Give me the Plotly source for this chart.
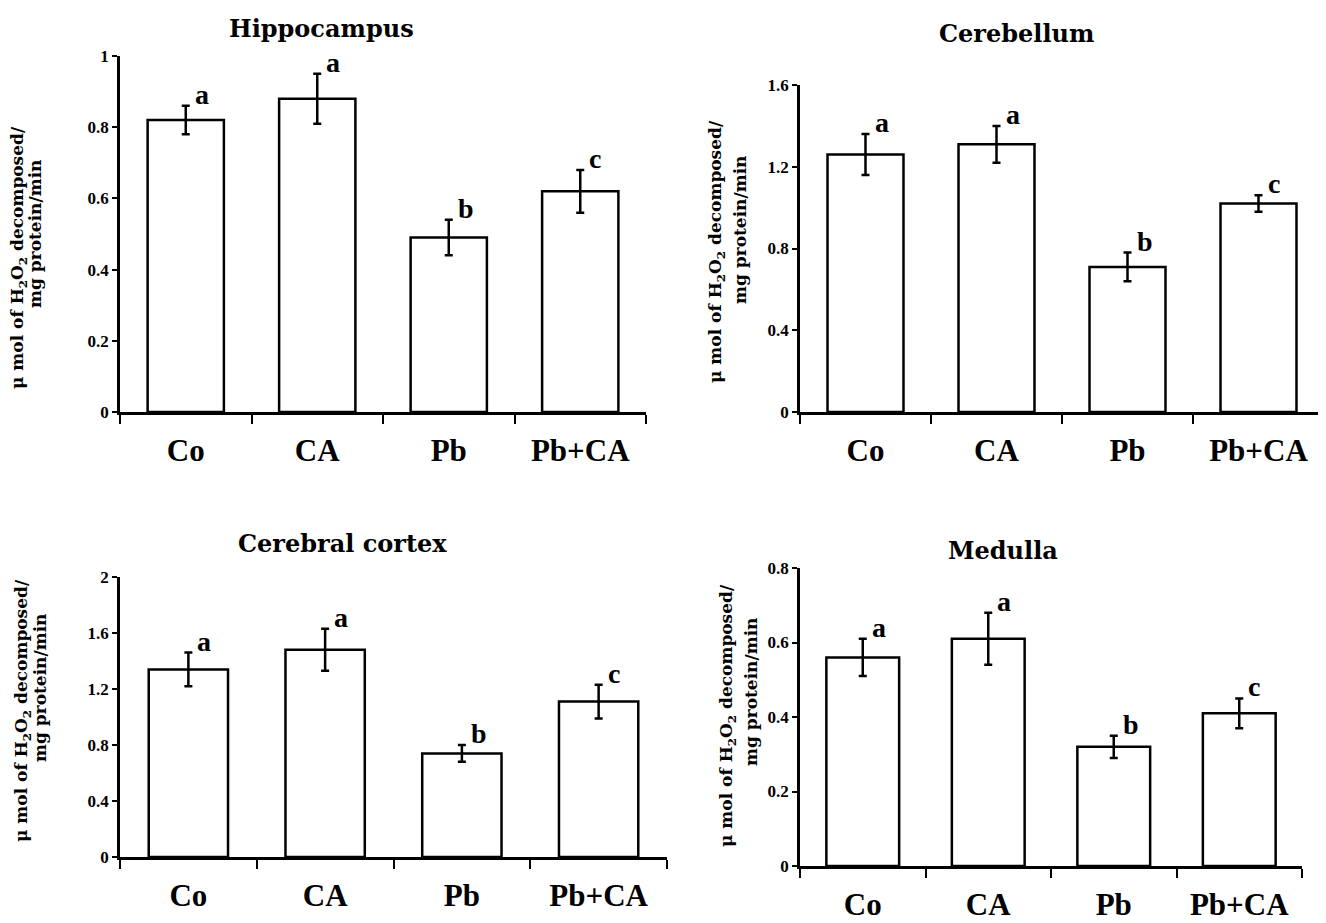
import plotly.graph_objects as go

# ---------------- data ----------------
categories = ["Co", "CA", "Pb", "Pb+CA"]
letters = ["a", "a", "b", "c"]

hippocampus = [0.82, 0.88, 0.49, 0.62]
hippocampus_err = [0.04, 0.07, 0.05, 0.06]

cerebellum = [1.26, 1.31, 0.71, 1.02]
cerebellum_err = [0.10, 0.09, 0.07, 0.04]

cortex = [1.34, 1.48, 0.74, 1.11]
cortex_err = [0.12, 0.15, 0.06, 0.12]

medulla = [0.56, 0.61, 0.32, 0.41]
medulla_err = [0.05, 0.07, 0.03, 0.04]

titles = ["Hippocampus", "Cerebellum", "Cerebral cortex", "Medulla"]
y_ranges = [[0, 1], [0, 1.6], [0, 2], [0, 0.8]]
y_dticks = [0.2, 0.4, 0.4, 0.2]
ytitle_line1 = "\u03bc mol of H<sub>2</sub>O<sub>2</sub> decomposed/"
ytitle_line2 = "mg protein/min"

# ---------------- layout geometry ----------------
# page body has an 8px margin: figure is drawn 8px in from the top-left
OFF = 8
W, H = 1326 - OFF, 923 - OFF

def px_x(x):
    return (x - OFF) / W

def px_y(y):
    return 1 - (y - OFF) / H

# (x0, x1, ytop, ybottom) in page pixels
panels = [
    (120, 646, 56, 412),
    (800, 1324, 85, 412),
    (120, 667, 577, 857),
    (800, 1302, 568, 866),
]
title_pos = [(321, 28), (1016, 33), (342, 543), (1003, 550)]
# (x line1, y line1, x line2, y line2)
ytitle_pos = [
    (18, 258, 35, 234),
    (717, 252, 740, 230),
    (22, 711, 40, 688),
    (727, 715, 751, 692),
]

series = [
    (hippocampus, hippocampus_err),
    (cerebellum, cerebellum_err),
    (cortex, cortex_err),
    (medulla, medulla_err),
]

SERIF = "Liberation Serif"
TITLE_FONT = "DejaVu Serif"

fig = go.Figure()
annotations = []
layout_axes = {}

for i, ((vals, errs), (x0, x1, yt, yb)) in enumerate(zip(series, panels)):
    n = i + 1
    xa = "x" if n == 1 else f"x{n}"
    ya = "y" if n == 1 else f"y{n}"
    fig.add_trace(go.Bar(
        x=categories, y=vals,
        xaxis=xa, yaxis=ya,
        width=0.58,
        marker=dict(color="white", line=dict(color="black", width=2.5)),
        error_y=dict(type="data", array=errs, visible=True,
                     color="black", thickness=2.5, width=4),
        showlegend=False, hoverinfo="x+y",
    ))
    xkey = "xaxis" if n == 1 else f"xaxis{n}"
    ykey = "yaxis" if n == 1 else f"yaxis{n}"
    layout_axes[xkey] = dict(
        domain=[px_x(x0), min(px_x(x1), 1.0)], anchor=ya, type="category",
        range=[-0.5, 3.5], automargin=False,
        showline=True, linecolor="black", linewidth=2.5,
        ticks="outside", tickson="boundaries", ticklen=9, tickwidth=2,
        tickcolor="black", showgrid=False, zeroline=False,
        tickfont=dict(family=SERIF, size=31, color="black", weight="bold"),
        ticklabelstandoff=9,
    )
    layout_axes[ykey] = dict(
        domain=[px_y(yb), px_y(yt)], anchor=xa, automargin=False,
        range=y_ranges[i], dtick=y_dticks[i], tick0=0,
        showline=True, linecolor="black", linewidth=2.5,
        ticks="outside", ticklen=5, tickwidth=2, tickcolor="black",
        showgrid=False, zeroline=False,
        tickfont=dict(family=SERIF, size=17, color="black", weight="bold"),
    )
    # significance letters
    for c, v, e, L in zip(categories, vals, errs, letters):
        annotations.append(dict(
            x=c, y=v + e, xref=xa, yref=ya, text=L, showarrow=False,
            xanchor="left", yanchor="bottom", xshift=7, yshift=-6,
            font=dict(family=SERIF, size=28, color="black", weight="bold"),
        ))
    # panel title
    tx, ty = title_pos[i]
    annotations.append(dict(
        x=px_x(tx), y=px_y(ty), xref="paper", yref="paper",
        text=titles[i], showarrow=False, xanchor="center", yanchor="middle",
        font=dict(family=TITLE_FONT, size=24, color="black", weight="bold"),
    ))
    # y-axis title (two lines)
    lx1, ly1, lx2, ly2 = ytitle_pos[i]
    for txt, lx, ly in ((ytitle_line1, lx1, ly1), (ytitle_line2, lx2, ly2)):
        annotations.append(dict(
            x=px_x(lx), y=px_y(ly), xref="paper", yref="paper",
            text=txt, showarrow=False, textangle=-90,
            xanchor="center", yanchor="middle",
            font=dict(family=TITLE_FONT, size=17, color="black", weight="bold"),
        ))

fig.update_layout(
    width=W, height=H, autosize=False,
    margin=dict(l=0, r=0, t=0, b=0),
    paper_bgcolor="white", plot_bgcolor="white",
    annotations=annotations,
    **layout_axes,
)

fig.write_html("out.html")
